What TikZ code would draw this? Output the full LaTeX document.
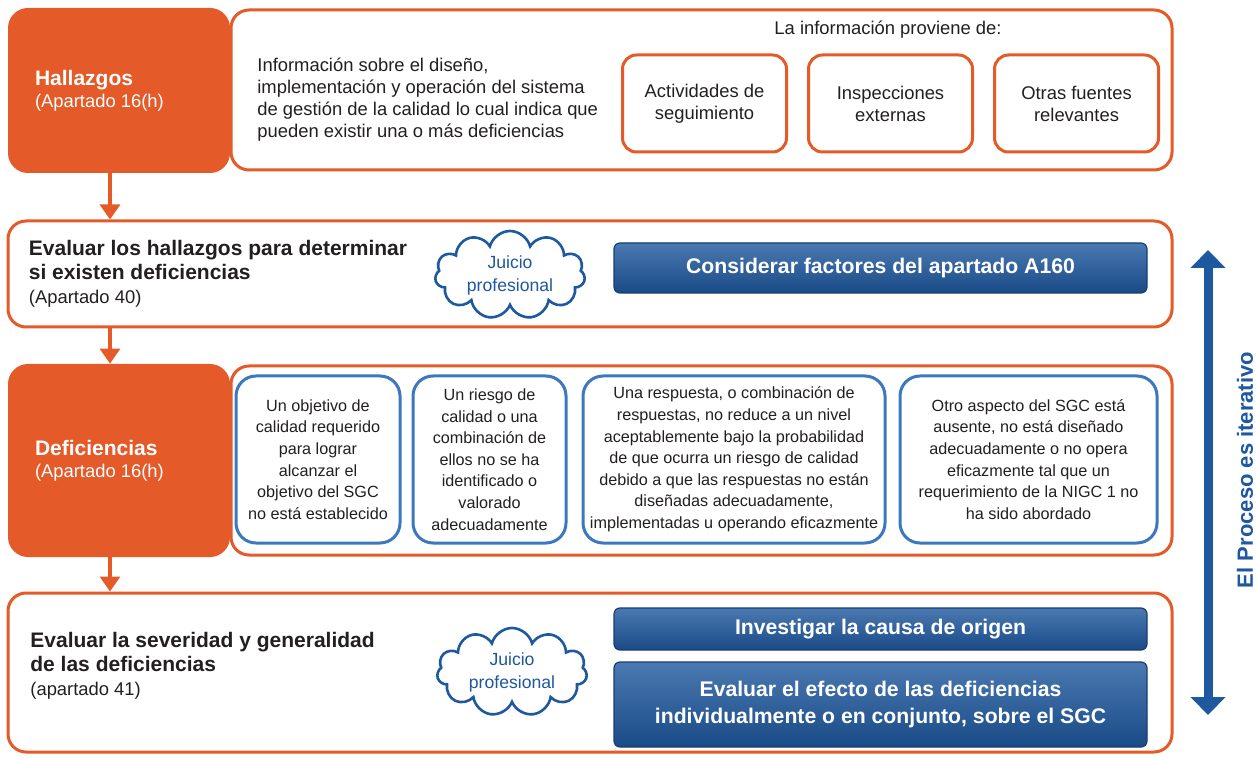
\documentclass[tikz,border=0pt]{standalone}
\usepackage{fontspec}
\setmainfont{Liberation Sans}
\usepackage{tikz}
\usetikzlibrary{positioning,arrows.meta,shapes.symbols}

\definecolor{naranja}{RGB}{228,90,40}
\definecolor{azul}{RGB}{30,88,158}
\definecolor{azulclaro}{RGB}{60,120,190}
\definecolor{azulosc}{RGB}{22,62,115}
\definecolor{texto}{RGB}{35,31,32}
\newcommand{\negr}[1]{{\bfseries\fontsize{10.5}{12}\selectfont #1}}

\begin{document}
\begin{tikzpicture}[x=0.5pt, y=-0.5pt,
  font=\fontsize{9.2}{11}\selectfont, text=texto,
  marco/.style={draw=naranja, line width=1.5pt, rounded corners=9pt, fill=white, inner sep=0pt},
  etapa/.style={fill=naranja, rounded corners=10pt, minimum width=111pt, inner sep=0pt},
  fuente/.style={draw=naranja, line width=1.5pt, rounded corners=7pt, minimum width=82pt, minimum height=48.5pt, align=center, inner sep=0pt},
  defi/.style={draw=azulclaro, line width=1.5pt, rounded corners=10pt, minimum height=83.5pt, align=center, inner sep=0pt, font=\fontsize{8.1}{10.8}\selectfont},
  boton/.style={draw=azulosc, line width=0.6pt, rounded corners=3pt, top color=azul!80!white, bottom color=azul!85!black, text=white, font=\bfseries\fontsize{10.6}{13.5}\selectfont, minimum width=266.5pt, align=center, inner sep=0pt},
  nube/.style={cloud, cloud puffs=11, cloud ignores aspect, draw=azul, line width=1.3pt, text=azul, align=center, inner sep=0pt, font=\fontsize{8.8}{11.5}\selectfont, minimum width=75pt, minimum height=44pt},
  titulo/.style={anchor=west, align=left, inner sep=0pt},
  flujo/.style={draw=naranja, line width=1.6pt, -{Triangle[width=10pt,length=7.5pt]}},
  iter/.style={draw=azul, line width=4.5pt, {Triangle[width=17pt,length=9pt]}-{Triangle[width=17pt,length=9pt]}}
]
\useasboundingbox (0,0) rectangle (1256,758);

% Hallazgos
\node[marco, minimum width=470.5pt, minimum height=80pt] (info) at (701.5,90) {};
\node[etapa, minimum height=82.5pt] (hall) at (119,90.5) {};
\node[titulo, text=white, right=13.5pt of hall.west] (hallT) {\negr{Hallazgos}\\(Apartado 16(h)};
\node[titulo] (infoT) at (257,100) {Información sobre el diseño,\\implementación y operación del sistema\\de gestión de la calidad lo cual indica que\\pueden existir una o más deficiencias};
\node (origen) at (888,30) {La información proviene de:};
\node[fuente] (act) at (704.5,103.5) {Actividades de\\seguimiento};
\node[fuente, right=9.5pt of act] (insp) {Inspecciones\\externas};
\node[fuente, right=9.5pt of insp] (otras) {Otras fuentes\\relevantes};

% Evaluar hallazgos
\node[marco, minimum width=582pt, minimum height=53pt] (evalh) at (590,274) {};
\node[titulo, right=11pt of evalh.west, font=\fontsize{9.2}{12}\selectfont] (evalhT) {\negr{Evaluar los hallazgos para determinar}\\\negr{si existen deficiencias}\\(Apartado 40)};
\node[nube] (juicio1) at (510,275) {Juicio\\profesional};
\node[boton, minimum height=25pt] (a160) at (880.5,268) {Considerar factores del apartado A160};

% Deficiencias
\node[marco, minimum width=470.5pt, minimum height=94.5pt] (tipos) at (701.5,460.5) {};
\node[etapa, minimum height=96.5pt] (defic) at (119,460.5) {};
\node[titulo, text=white, right=13.5pt of defic.west] (deficT) {\negr{Deficiencias}\\(Apartado 16(h)};
\node[defi, minimum width=82pt] (objetivo) at (318,459.5) {Un objetivo de\\calidad requerido\\para lograr\\alcanzar el\\objetivo del SGC\\no está establecido};
\node[defi, minimum width=76.5pt] (riesgo) at (489.5,459.5) {Un riesgo de\\calidad o una\\combinación de\\ellos no se ha\\identificado o\\valorado\\adecuadamente};
\node[defi, minimum width=151pt] (respuesta) at (734,459.5) {Una respuesta, o combinación de\\respuestas, no reduce a un nivel\\aceptablemente bajo la probabilidad\\de que ocurra un riesgo de calidad\\debido a que las respuestas no están\\diseñadas adecuadamente,\\implementadas u operando eficazmente};
\node[defi, minimum width=128.5pt] (aspecto) at (1028.5,459.5) {Otro aspecto del SGC está\\ausente, no está diseñado\\adecuadamente o no opera\\eficazmente tal que un\\requerimiento de la NIGC 1 no\\ha sido abordado};

% Severidad
\node[marco, minimum width=582pt, minimum height=79.5pt] (sever) at (590,672.5) {};
\node[titulo, font=\fontsize{9.2}{12}\selectfont] (severT) at (30,666) {\negr{Evaluar la severidad y generalidad}\\\negr{de las deficiencias}\\(apartado 41)};
\node[nube] (juicio2) at (512,672) {Juicio\\profesional};
\node[boton, minimum height=21pt] (causa) at (880.5,629) {Investigar la causa de origen};
\node[boton, minimum height=42.5pt] (efecto) at (880.5,704.5) {Evaluar el efecto de las deficiencias\\individualmente o en conjunto, sobre el SGC};

% flechas
\coordinate (f1) at ([xshift=-4.5pt]hall.south);
\coordinate (f2) at (f1 |- evalh.south);
\coordinate (f3) at (f1 |- defic.south);
\draw[flujo] (f1) -- (f1 |- evalh.north);
\draw[flujo] (f2) -- (f2 |- defic.north);
\draw[flujo] (f3) -- (f3 |- sever.north);

% proceso iterativo
\coordinate (iterSup) at (1208,250);
\coordinate (iterInf) at (1208,715);
\draw[iter] (iterInf) -- (iterSup);
\node[rotate=90, text=azul, font=\bfseries\fontsize{11}{13}\selectfont] (iterT) at (1245,470) {El Proceso es iterativo};
\end{tikzpicture}
\end{document}
